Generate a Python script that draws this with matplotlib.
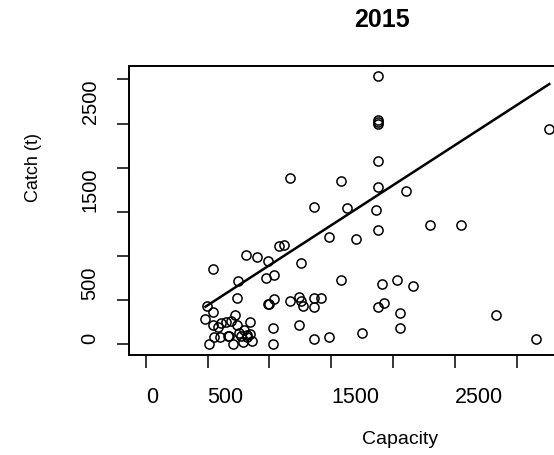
import numpy as np
import matplotlib

matplotlib.use("Agg")
import matplotlib.pyplot as plt  # noqa: E402
from matplotlib.ticker import FixedLocator, FixedFormatter  # noqa: E402

plt.rcParams["font.family"] = ["Liberation Sans", "DejaVu Sans"]

# values (capacity vs catch, 2015)
capacity = [
    1882, 1882, 1882, 1882, 3263, 1882, 1168, 1583, 1882, 2104,
    1362, 1629, 1866, 2295, 2551, 1882, 1478, 1702, 1079, 1122,
    809, 901, 987, 1254, 542, 750, 974, 1036, 1583, 1912,
    2028, 2163, 736, 496, 542, 990, 1000, 1036, 1168, 1241,
    1254, 1270, 1362, 1421, 1362, 1882, 1928, 2060, 2832, 483,
    542, 588, 607, 650, 690, 720, 736, 841, 796, 752,
    820, 847, 556, 601, 663, 677, 510, 707, 790, 858,
    1033, 1033, 1241, 1362, 1478, 1750, 2060, 3158, 772, 815,
]
catch = [
    3042, 2540, 2520, 2494, 2438, 2075, 1887, 1853, 1781, 1732,
    1558, 1540, 1525, 1351, 1351, 1298, 1215, 1196, 1113, 1128,
    1008, 989, 940, 925, 853, 717, 747, 781, 728, 679,
    728, 660, 525, 438, 366, 453, 453, 509, 491, 540,
    491, 438, 525, 525, 423, 423, 472, 351, 332, 283,
    215, 200, 238, 249, 264, 328, 215, 249, 162, 125,
    106, 113, 79, 87, 94, 94, 8, 8, 26, 38,
    181, 8, 215, 60, 79, 128, 181, 60, 94, 79,
]
# fitted line as drawn in the reference
fit_intercept = -12
fit_slope = 0.907

tick_values = [0, 500, 1000, 1500, 2000, 2500, 3000]
# R drops the labels that would overlap
tick_labels = ["0", "500", "", "1500", "", "2500", ""]

cap = np.asarray(capacity, dtype=float)
cat = np.asarray(catch, dtype=float)
xs = np.array([cap.min(), cap.max()])

fig = plt.figure(figsize=(5.54, 4.55), dpi=100)
ax = fig.add_axes([129 / 554, 1 - 355 / 455, 436 / 554, 289 / 455])

ax.plot(cap, cat, linestyle="none", marker="o", markersize=6.6,
        markerfacecolor="none", markeredgecolor="black", markeredgewidth=1.1)
ax.plot(xs, fit_intercept + fit_slope * xs, color="black", linewidth=1.8)

ax.set_xlim(-135, 3390)
ax.set_ylim(-121, 3152)

for a in (ax.xaxis, ax.yaxis):
    a.set_major_locator(FixedLocator(tick_values))
    a.set_major_formatter(FixedFormatter(tick_labels))

ax.tick_params(direction="out", length=9, width=1.1, color="black")
ax.tick_params(axis="x", labelsize=15.5, pad=14)
ax.tick_params(axis="y", labelsize=14.5, pad=19)
# labels start at their tick, as in the reference
for lab in ax.get_xticklabels():
    lab.set_ha("left")
for lab in ax.get_yticklabels():
    lab.set_rotation(90)
    lab.set_va("bottom")
    lab.set_ha("center")

for sp in ax.spines.values():
    sp.set_linewidth(1.4)

fig.text(382 / 554, 1 - 20 / 455, "2015", ha="center", va="center",
         fontsize=18, fontweight="bold")
fig.text(400 / 554, 1 - 439 / 455, "Capacity", ha="center", va="center",
         fontsize=14)
fig.text(34 / 554, 1 - 168 / 455, "Catch (t)", ha="center", va="center",
         fontsize=13, rotation=90)

fig.savefig("out.png", dpi=100)
